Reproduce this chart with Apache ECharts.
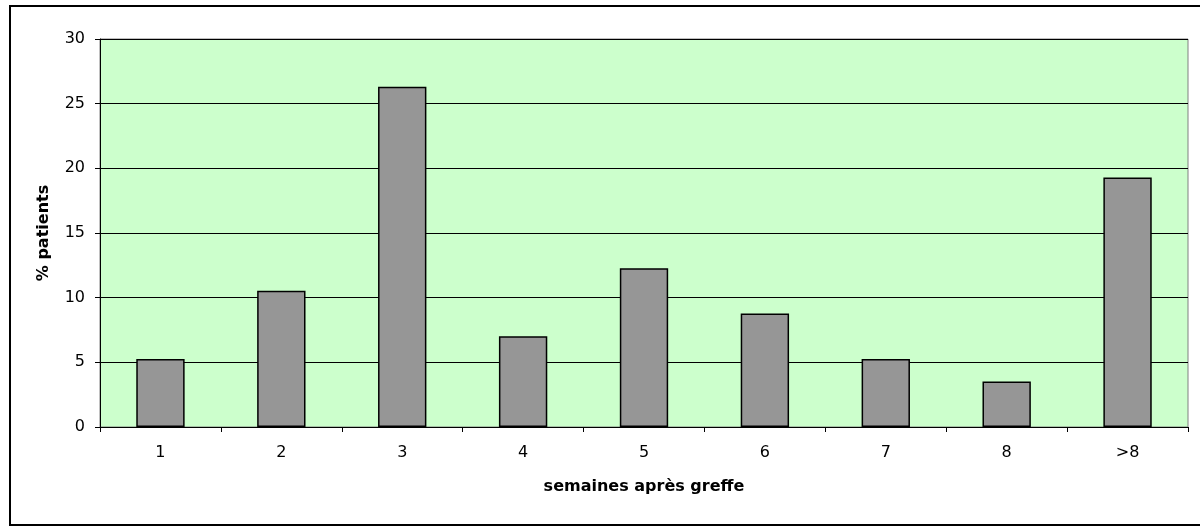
<!DOCTYPE html>
<html>
<head>
<meta charset="utf-8">
<script src="https://cdn.jsdelivr.net/npm/echarts@6/dist/echarts.min.js"></script>
<style>
  html, body { margin: 0; padding: 0; background: #fff; }
  #chart { width: 1200px; height: 530px; }
</style>
</head>
<body>
<div id="chart"></div>
<script>
  // semaines après greffe
  var categories = ['1', '2', '3', '4', '5', '6', '7', '8', '>8'];
  // % patients
  var patients = [5.26, 10.53, 26.3, 7.02, 12.28, 8.77, 5.26, 3.51, 19.3];
  var yTicks = { min: 0, max: 30, step: 5 };

  var chart = echarts.init(document.getElementById('chart'));
  var font = '"DejaVu Sans", Arial, sans-serif';

  var option = {
    backgroundColor: '#ffffff',
    animation: false,
    graphic: [{
      type: 'rect',
      shape: { x: 10, y: 6, width: 1200, height: 519 },
      style: { fill: 'none', stroke: '#000000', lineWidth: 2 },
      silent: true
    }],
    grid: {
      left: 100,
      right: 12,
      top: 39,
      bottom: 103,
      show: true,
      backgroundColor: '#CCFFCC',
      borderColor: '#808080',
      borderWidth: 1
    },
    xAxis: {
      type: 'category',
      data: categories,
      name: 'semaines après greffe',
      nameLocation: 'middle',
      nameGap: 52,
      nameTextStyle: { fontFamily: font, fontSize: 16, fontWeight: 'bold', color: '#000' },
      axisLine: { lineStyle: { color: '#000000', width: 1 } },
      axisTick: { show: true, length: 5, lineStyle: { color: '#000000' } },
      axisLabel: { fontFamily: font, fontSize: 16, color: '#000', margin: 18 },
      splitLine: { show: false }
    },
    yAxis: {
      type: 'value',
      min: yTicks.min,
      max: yTicks.max,
      interval: yTicks.step,
      name: '% patients',
      nameLocation: 'middle',
      nameGap: 48,
      nameTextStyle: { fontFamily: font, fontSize: 16, fontWeight: 'bold', color: '#000' },
      axisLine: { show: true, lineStyle: { color: '#000000', width: 1 } },
      axisTick: { show: true, length: 5, lineStyle: { color: '#000000' } },
      axisLabel: { fontFamily: font, fontSize: 16, color: '#000', margin: 15 },
      splitLine: { show: true, lineStyle: { color: '#000000', width: 1 } }
    },
    series: [{
      type: 'bar',
      data: patients,
      barWidth: '40%',
      itemStyle: {
        color: '#969696',
        borderColor: '#000000',
        borderWidth: 1.5
      }
    }]
  };

  chart.setOption(option);
</script>
</body>
</html>
